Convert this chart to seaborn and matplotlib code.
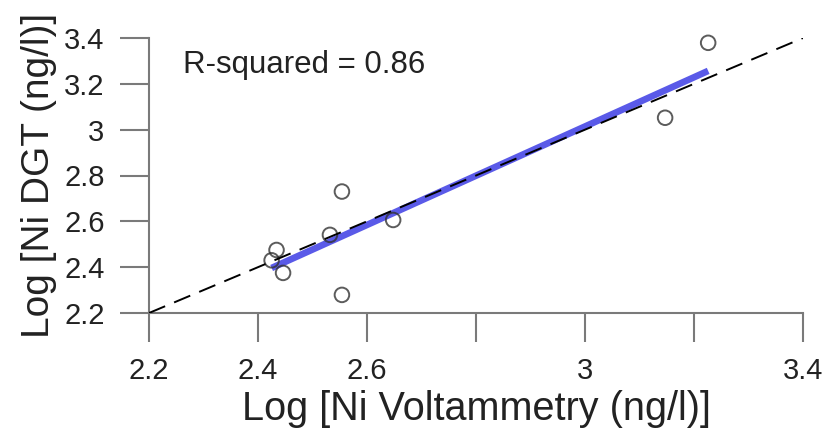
import matplotlib
matplotlib.use("Agg")
import matplotlib.pyplot as plt
import seaborn as sns
import pandas as pd

# Data
ni_voltammetry = [2.425, 2.434, 2.446, 2.532, 2.554, 2.554, 2.648, 3.147, 3.226]
ni_dgt = [2.430, 2.475, 2.375, 2.541, 2.730, 2.279, 2.606, 3.052, 3.379]
x_ticks = [2.2, 2.4, 2.6, 2.8, 3.0, 3.2, 3.4]
x_tick_labels = ["2.2", "2.4", "2.6", "", "3", "", "3.4"]
y_ticks = [2.2, 2.4, 2.6, 2.8, 3.0, 3.2, 3.4]
y_tick_labels = ["2.2", "2.4", "2.6", "2.8", "3", "3.2", "3.4"]
r2_text = "R-squared = 0.86"
x_label = "Log [Ni Voltammetry (ng/l)]"
y_label = "Log [Ni DGT (ng/l)]"

sns.set_style("white")
plt.rcParams["font.family"] = ["Liberation Sans", "DejaVu Sans"]

df = pd.DataFrame({"x": ni_voltammetry, "y": ni_dgt})

fig = plt.figure(figsize=(8.25, 4.37), dpi=100)
ax = fig.add_axes([149 / 825, 1 - 313 / 437, 654 / 825, 275 / 437])

sns.regplot(data=df, x="x", y="y", ax=ax, ci=None, truncate=True,
            scatter_kws=dict(s=110, facecolors="none", edgecolors="#333333",
                             linewidths=1.4, zorder=3, clip_on=False),
            line_kws=dict(color="#5a5ae8", lw=4.8, zorder=2, solid_capstyle="butt"))

ax.axline((2.2, 2.2), slope=1, color="black", lw=1.4, ls=(0, (9, 5)), zorder=4)

ax.set_xlim(2.2, 3.4)
ax.set_ylim(2.2, 3.4)
ax.set_xticks(x_ticks)
ax.set_xticklabels(x_tick_labels)
ax.set_yticks(y_ticks)
ax.set_yticklabels(y_tick_labels)

gray = "#7a7a7a"
for side in ["top", "right"]:
    ax.spines[side].set_visible(False)
for side in ["left", "bottom"]:
    ax.spines[side].set_color(gray)
    ax.spines[side].set_linewidth(1.5)

ax.tick_params(axis="both", direction="out", length=21, width=1.5, color=gray,
               labelsize=21, labelcolor="#222222", pad=11,
               bottom=True, left=True)

ax.set_xlabel(x_label, fontsize=28.5, color="#222222", labelpad=3)
ax.set_ylabel(y_label, fontsize=28, color="#222222", labelpad=5)

ax.text(0.052, 0.873, r2_text, transform=ax.transAxes, fontsize=22.5,
        color="#222222", va="baseline", ha="left")

fig.savefig("out.png", dpi=100)
